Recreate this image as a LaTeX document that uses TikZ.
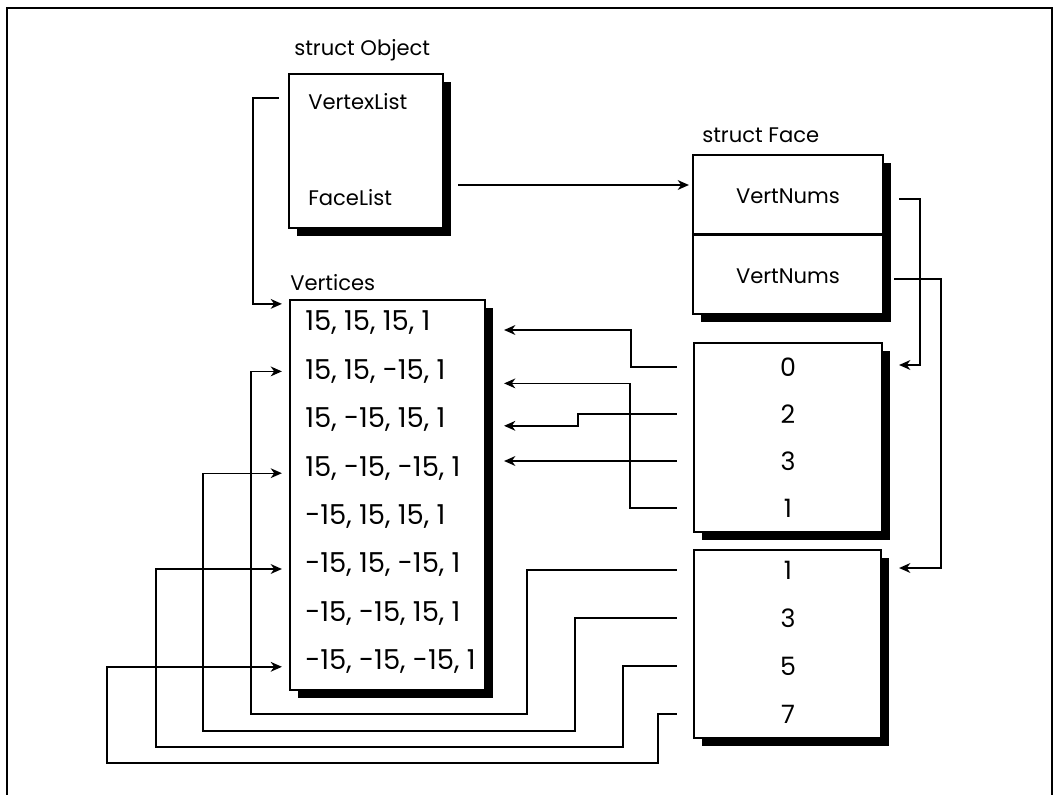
\documentclass[tikz,border=0pt]{standalone}
\usepackage{fontspec}
\setmainfont{Poppins}
\usepackage{tikz}
\usetikzlibrary{positioning,arrows.meta,calc,shadows}

\begin{document}
\begin{tikzpicture}[
  x=0.025cm, y=-0.025cm,
  font=\fontsize{15}{18}\selectfont,
  shbox/.style={draw, line width=1.5pt, fill=white, inner sep=0pt,
    general shadow={fill=black, shadow xshift=6pt, shadow yshift=-6pt}},
  txt/.style={inner sep=0pt},
  row/.style={inner sep=0pt, anchor=west, font=\fontsize{19.5}{22}\selectfont},
  num/.style={inner sep=0pt, font=\fontsize{18}{22}\selectfont},
  link/.style={-{Stealth[length=8pt, width=7pt, inset=2.5pt]}, line width=1pt}]

  \useasboundingbox (0,0) rectangle (1058,795);
  \draw[line width=0.9pt] (7,795) -- (7,8) -- (1052,8) -- (1052,795);

  % --- struct Object ---
  \node[txt, anchor=base west] (objlbl) at (294,56) {struct Object};
  \node[shbox, minimum width=3.85cm, minimum height=3.85cm] (obj) at (366,151) {};
  \node[txt, anchor=west] (vlist) at (308,102) {VertexList};
  \node[txt, anchor=west] (flist) at (308,198) {FaceList};

  % --- vertex array ---
  \node[txt, anchor=base west] (vertlbl) at (290,290) {Vertices};
  \node[shbox, minimum width=4.875cm, minimum height=9.75cm] (verts) at (387.5,495) {};
  \foreach \v [count=\i from 0] in {{15, 15, 15, 1},{15, 15, -15, 1},{15, -15, 15, 1},
      {15, -15, -15, 1},{-15, 15, 15, 1},{-15, 15, -15, 1},{-15, -15, 15, 1},{-15, -15, -15, 1}}
    \node[row] (v\i) at (305,323+48.4*\i) {\v};

  % --- struct Face ---
  \node[txt, anchor=base west] (facelbl) at (702,142) {struct Face};
  \node[shbox, minimum width=4.75cm, minimum height=3.975cm] (face) at (788,234.5) {};
  \draw[line width=1.5pt] (face.west) -- (face.east);
  \node[txt] (vn0) at (788,196) {VertNums};
  \node[txt] (vn1) at (788,276) {VertNums};

  % --- index lists ---
  \node[shbox, minimum width=4.7cm, minimum height=4.725cm] (idxa) at (788,437.5) {};
  \foreach \n [count=\i from 0] in {0,2,3,1}
    \node[num] (a\i) at (788,367+47*\i) {\n};
  \node[shbox, minimum width=4.675cm, minimum height=4.7cm] (idxb) at (787.5,644) {};
  \foreach \n [count=\i from 0] in {1,3,5,7}
    \node[num] (b\i) at (788,570+48*\i) {\n};

  % --- object pointers ---
  \draw[link] ($(vlist -| obj.west)+(-9,-4)$) -| ($(verts.north west)+(-36,5)$) -- ($(verts.north west)+(-7,5)$);
  \draw[link] ($(flist -| obj.east)+(14,-13)$) -- ($(flist -| face.west)+(-3,-13)$);

  % --- face to index lists ---
  \draw[link] ($(vn0 -| face.east)+(15,3)$) -- ++(21,0) |- ($(a0 -| idxa.east)+(16,-2)$);
  \draw[link] ($(vn1 -| face.east)+(10,3)$) -- ++(47,0) |- ($(b0 -| idxb.east)+(17,-2)$);

  % --- first face: into the right side ---
  \draw[link] ($(a0 -| idxa.west)+(-16,0)$) -- ++(-46,0) |- ($(v0 -| verts.east)+(18,7)$);
  \draw[link] ($(a1 -| idxa.west)+(-16,0)$) -- ++(-99,0) |- ($(v2 -| verts.east)+(18,6)$);
  \draw[link] ($(a2 -| idxa.west)+(-16,0)$) -- ($(a2 -| verts.east)+(18,0)$);
  \draw[link] ($(a3 -| idxa.west)+(-16,0)$) -- ++(-47,0) |- ($(v1 -| verts.east)+(18,12)$);

  % --- second face: round the bottom, into the left side ---
  \draw[link] ($(b0 -| idxb.west)+(-16,0)$) -- ++(-150,0) |- ($(verts.south west)+(-38,23)$) |- ($(v1 -| verts.west)+(-7,0)$);
  \draw[link] ($(b1 -| idxb.west)+(-16,0)$) -- ++(-102,0) |- ($(verts.south west)+(-86,40)$) |- ($(v3 -| verts.west)+(-7,5)$);
  \draw[link] ($(b2 -| idxb.west)+(-16,0)$) -- ++(-54,0) |- ($(verts.south west)+(-133,56)$) |- ($(v5 -| verts.west)+(-7,4)$);
  \draw[link] ($(b3 -| idxb.west)+(-16,0)$) -- ++(-19,0) |- ($(verts.south west)+(-182,72)$) |- ($(v7 -| verts.west)+(-7,5)$);
\end{tikzpicture}
\end{document}
